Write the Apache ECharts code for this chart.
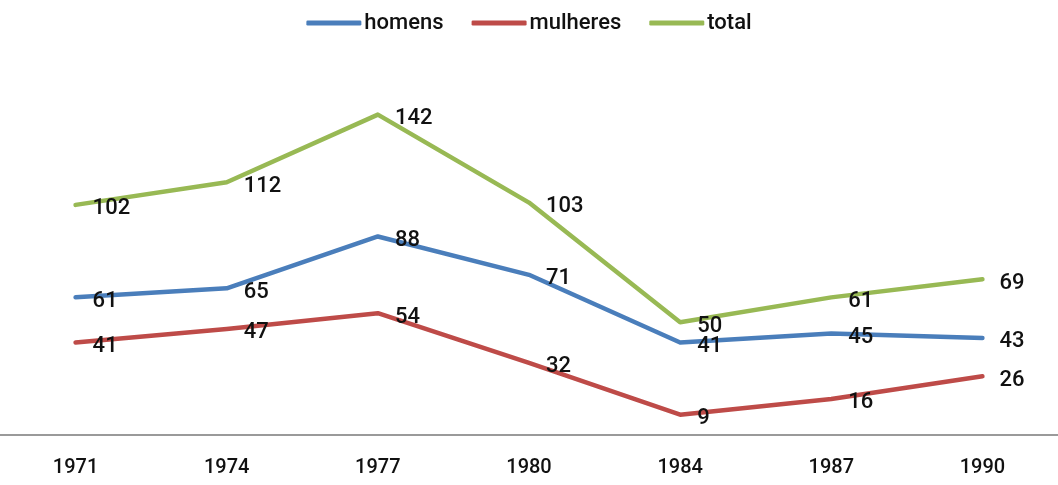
<!DOCTYPE html>
<html><head><meta charset="utf-8">
<script src="https://cdn.jsdelivr.net/npm/echarts@6/dist/echarts.min.js"></script>
<style>html,body{margin:0;padding:0;background:#fff}#c{width:1058px;height:485px}</style>
</head><body><div id="c"></div>
<script>
const categories = ['1971','1974','1977','1980','1984','1987','1990'];
const homens = [61, 65, 88, 71, 41, 45, 43];
const mulheres = [41, 47, 54, 32, 9, 16, 26];
const total = [102, 112, 142, 103, 50, 61, 69];

const FONT = '"Liberation Sans Narrow", "Arial Narrow", Roboto, sans-serif';
const chart = echarts.init(document.getElementById('c'));
function mk(name, data, color) {
  return {
    name, type: 'line', data, symbol: 'circle', symbolSize: 0.1, showSymbol: true, smooth: false,
    lineStyle: { width: 4.5, color, cap: 'round', join: 'round' }, itemStyle: { color },
    label: { show: true, position: 'right', distance: 17, offset: [0, 4],
      color: '#111', fontFamily: FONT, fontSize: 22, fontWeight: 500 }
  };
}
chart.setOption({
  animation: false,
  backgroundColor: '#fff',
  textStyle: { fontFamily: FONT },
  legend: {
    top: 7, left: 'center', itemWidth: 55, itemHeight: 5, itemGap: 28,
    icon: 'roundRect',
    textStyle: { fontFamily: FONT, fontSize: 22, fontWeight: 500, color: '#111', padding: [0,0,0,-2] },
    data: ['homens','mulheres','total']
  },
  grid: { left: -1, right: -10, top: 74, bottom: 50, containLabel: false },
  xAxis: {
    type: 'category', data: categories, boundaryGap: true,
    axisLine: { lineStyle: { color: '#9a9a9a', width: 2 } },
    axisTick: { show: false },
    axisLabel: { color: '#111', fontFamily: FONT, fontSize: 20, fontWeight: 500, margin: 23 }
  },
  yAxis: { type: 'value', min: 0, max: 160, show: false, splitLine: { show: false } },
  series: [
    mk('homens', homens, '#4a7ebb'),
    mk('mulheres', mulheres, '#be4b48'),
    mk('total', total, '#98b954')
  ]
});
</script></body></html>
